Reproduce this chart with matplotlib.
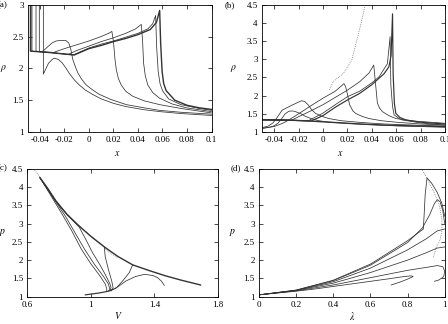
import matplotlib
matplotlib.use('Agg')
import matplotlib.pyplot as plt
from matplotlib.ticker import FuncFormatter

plt.rcParams['font.family'] = ['Liberation Serif', 'DejaVu Serif']
plt.rcParams['mathtext.fontset'] = 'stix'
plt.rcParams['font.size'] = 6.5

# ---- panel (a): rho vs x ----
a1_x = [-0.0372, -0.0372, -0.0355, -0.033, -0.030, -0.0282, -0.025, -0.022, -0.019, -0.016, -0.012,
        -0.008, -0.003, 0.003, 0.010, 0.020, 0.030, 0.045, 0.058, 0.075, 0.1]
a1_y = [3.0, 1.91, 1.98, 2.08, 2.14, 2.16, 2.14, 2.09, 2.01, 1.92, 1.82,
        1.74, 1.66, 1.59, 1.52, 1.45, 1.40, 1.35, 1.32, 1.29, 1.26]
a2_x = [-0.0405, -0.0405, -0.038, -0.0364, -0.033, -0.030, -0.0268, -0.022, -0.0187, -0.0165, -0.0148,
        -0.0132, -0.011, -0.0091, -0.006, -0.0023, 0.003, 0.0086, 0.018, 0.0305, 0.045, 0.0577, 0.075, 0.1]
a2_y = [3.0, 2.27, 2.265, 2.29, 2.35, 2.40, 2.43, 2.44, 2.435, 2.40, 2.30,
        2.14, 2.02, 1.93, 1.83, 1.74, 1.66, 1.59, 1.51, 1.43, 1.38, 1.34, 1.31, 1.28]
a3_x = [-0.0432, -0.0432, -0.038, -0.033, -0.029, -0.02, -0.01, 0.0, 0.01, 0.016, 0.0187,
        0.020, 0.0212, 0.0223, 0.024, 0.0263, 0.030, 0.0359, 0.045, 0.0577, 0.075, 0.1]
a3_y = [3.0, 2.27, 2.26, 2.255, 2.25, 2.31, 2.37, 2.43, 2.50, 2.55, 2.58,
        2.42, 2.15, 1.98, 1.84, 1.74, 1.64, 1.56, 1.49, 1.43, 1.37, 1.30]
a4_x = [-0.0465, -0.0465, -0.04, -0.03, -0.017, -0.01, 0.0, 0.01, 0.02, 0.03, 0.038, 0.0427,
        0.0437, 0.0446, 0.046, 0.048, 0.052, 0.0577, 0.068, 0.0795, 0.09, 0.1]
a4_y = [3.0, 2.27, 2.26, 2.245, 2.22, 2.28, 2.35, 2.42, 2.48, 2.55, 2.62, 2.69,
        2.45, 2.08, 1.88, 1.74, 1.62, 1.53, 1.44, 1.38, 1.35, 1.32]
a5_x = [-0.048, -0.048, -0.04, -0.03, -0.02, -0.013, 0.0, 0.01, 0.02, 0.03, 0.04, 0.048, 0.052, 0.0544,
        0.0552, 0.0565, 0.058, 0.060, 0.065, 0.075, 0.09, 0.1]
a5_y = [3.0, 2.27, 2.26, 2.245, 2.225, 2.21, 2.32, 2.38, 2.43, 2.49, 2.55, 2.62, 2.70, 2.83,
        2.35, 1.95, 1.76, 1.65, 1.52, 1.43, 1.37, 1.34]
a6_x = [-0.0475, -0.0475, -0.04, -0.03, -0.02, -0.012, 0.0, 0.01, 0.02, 0.03, 0.04, 0.05, 0.055, 0.0577,
        0.0585, 0.0597, 0.061, 0.063, 0.07, 0.08, 0.09, 0.1]
a6_y = [3.0, 2.27, 2.26, 2.245, 2.225, 2.21, 2.31, 2.36, 2.42, 2.47, 2.53, 2.61, 2.72, 2.91,
        2.40, 1.95, 1.76, 1.65, 1.50, 1.42, 1.38, 1.355]

# ---- panel (b): rho vs x ----
b0_x = [-0.05, -0.03, -0.01, 0.01, 0.03, 0.05, 0.07, 0.1]
b0_y = [1.34, 1.33, 1.30, 1.26, 1.22, 1.19, 1.17, 1.15]
b1_x = [-0.05, -0.044, -0.04, -0.037, -0.034, -0.031, -0.028, -0.025, -0.0226, -0.018, -0.0144,
        -0.009, -0.0034, 0.005, 0.0186, 0.04, 0.06, 0.08, 0.1]
b1_y = [1.10, 1.13, 1.17, 1.24, 1.36, 1.50, 1.57, 1.58, 1.56, 1.50, 1.43,
        1.36, 1.31, 1.27, 1.24, 1.20, 1.17, 1.15, 1.13]
b2_x = [-0.05, -0.045, -0.041, -0.038, -0.0335, -0.0253, -0.0176, -0.015, -0.012, -0.0095, -0.0061,
        0.0, 0.0048, 0.015, 0.032, 0.05, 0.075, 0.1]
b2_y = [1.12, 1.16, 1.25, 1.38, 1.60, 1.74, 1.86, 1.84, 1.74, 1.62, 1.51,
        1.42, 1.37, 1.31, 1.26, 1.22, 1.19, 1.16]
b3_x = [-0.05, -0.04, -0.033, -0.028, -0.02, -0.01, 0.0, 0.01, 0.0172, 0.0185, 0.0199, 0.0218,
        0.0245, 0.0268, 0.032, 0.0377, 0.048, 0.0597, 0.08, 0.1]
b3_y = [1.10, 1.15, 1.24, 1.33, 1.50, 1.72, 1.93, 2.12, 2.33, 2.25, 2.06, 1.75,
        1.58, 1.51, 1.43, 1.37, 1.31, 1.27, 1.22, 1.19]
b4_x = [-0.05, -0.035, -0.026, -0.02, -0.01, 0.0, 0.01, 0.02, 0.03, 0.0377, 0.0416, 0.0428,
        0.0446, 0.0465, 0.0487, 0.054, 0.0597, 0.075, 0.1]
b4_y = [1.33, 1.32, 1.32, 1.42, 1.58, 1.75, 1.95, 2.15, 2.38, 2.62, 2.84, 2.42,
        1.79, 1.65, 1.56, 1.45, 1.37, 1.30, 1.24]
b5_x = [-0.05, -0.03, -0.012, 0.0, 0.01, 0.02, 0.03, 0.04, 0.046, 0.0528, 0.055, 0.0556,
        0.057, 0.0583, 0.062, 0.065, 0.08, 0.1]
b5_y = [1.33, 1.32, 1.31, 1.52, 1.75, 1.97, 2.12, 2.35, 2.52, 2.88, 3.62, 2.30,
        1.70, 1.47, 1.38, 1.33, 1.25, 1.19]
b6_x = [-0.05, -0.03, -0.01, 0.0, 0.01, 0.02, 0.03, 0.04, 0.05, 0.054, 0.0558, 0.057, 0.0575,
        0.0585, 0.0597, 0.063, 0.068, 0.08, 0.1]
b6_y = [1.34, 1.33, 1.30, 1.45, 1.68, 1.88, 2.06, 2.30, 2.60, 2.79, 3.10, 4.25, 2.60,
        1.79, 1.51, 1.40, 1.33, 1.27, 1.22]
b_dot_x = [0.0051, 0.0085, 0.0126, 0.0167, 0.0236, 0.0278, 0.0319, 0.0346]
b_dot_y = [2.16, 2.39, 2.50, 2.61, 2.98, 3.53, 4.08, 4.50]

# ---- panel (c): p vs V ----
c_env_v = [0.68, 0.73, 0.78, 0.85, 0.927, 1.0, 1.085, 1.17, 1.263, 1.37, 1.47, 1.57, 1.672, 1.69]
c_env_p = [4.25, 3.95, 3.62, 3.25, 2.93, 2.65, 2.36, 2.10, 1.87, 1.71, 1.57, 1.45, 1.34, 1.32]
c_low_v = [0.965, 1.0, 1.05, 1.1, 1.13]
c_low_p = [1.05, 1.07, 1.10, 1.14, 1.18]
c1_v = [0.68, 0.75, 0.82, 0.88, 0.94, 1.0, 1.06, 1.09, 1.1, 1.1]
c1_p = [4.25, 3.75, 3.25, 2.80, 2.30, 1.90, 1.55, 1.35, 1.22, 1.15]
c2_v = [0.68, 0.76, 0.84, 0.90, 0.96, 1.02, 1.08, 1.11, 1.12, 1.11]
c2_p = [4.25, 3.72, 3.20, 2.75, 2.30, 1.90, 1.55, 1.35, 1.20, 1.15]
c3_v = [0.68, 0.78, 0.85, 0.927, 0.97, 1.011, 1.06, 1.095, 1.12, 1.127, 1.12]
c3_p = [4.25, 3.60, 3.24, 2.90, 2.55, 2.20, 1.85, 1.57, 1.35, 1.25, 1.16]
c4_v = [1.085, 1.09, 1.11, 1.13, 1.14, 1.13]
c4_p = [2.36, 2.10, 1.75, 1.45, 1.25, 1.16]
c5_v = [1.263, 1.242, 1.20, 1.158, 1.13]
c5_p = [1.87, 1.66, 1.43, 1.23, 1.18]
c6_v = [1.12, 1.17, 1.221, 1.28, 1.336, 1.39, 1.42, 1.445, 1.462]
c6_p = [1.16, 1.27, 1.43, 1.55, 1.61, 1.58, 1.52, 1.42, 1.31]
c_dot_v = [1.165, 1.13, 1.10, 1.08, 1.0, 0.9, 0.8, 0.72, 0.68, 0.64]
c_dot_p = [2.08, 2.17, 2.26, 2.38, 2.66, 3.03, 3.50, 4.02, 4.27, 4.50]

# ---- panel (d): p vs lambda ----
d1_l = [0.0, 0.1, 0.2, 0.3, 0.4, 0.5, 0.6, 0.7, 0.78, 0.82, 0.83, 0.80, 0.76, 0.712]
d1_p = [1.05, 1.10, 1.15, 1.21, 1.28, 1.35, 1.42, 1.49, 1.55, 1.57, 1.55, 1.48, 1.40, 1.32]
d2_l = [0.0, 0.2, 0.4, 0.6, 0.8, 0.9, 0.96, 0.99, 1.0, 0.995, 0.97, 0.945]
d2_p = [1.05, 1.16, 1.32, 1.52, 1.72, 1.80, 1.85, 1.82, 1.70, 1.55, 1.46, 1.42]
d3_l = [0.0, 0.2, 0.4, 0.6, 0.8, 0.9, 0.96, 1.0]
d3_p = [1.05, 1.17, 1.37, 1.66, 2.00, 2.20, 2.33, 2.36]
d4_l = [0.0, 0.2, 0.4, 0.6, 0.8, 0.9, 0.96, 1.0]
d4_p = [1.05, 1.17, 1.41, 1.78, 2.28, 2.58, 2.80, 2.85]
d5_l = [0.0, 0.2, 0.4, 0.6, 0.8, 0.88, 0.92, 0.945, 0.96, 0.975, 0.99, 1.0]
d5_p = [1.05, 1.18, 1.44, 1.86, 2.48, 2.88, 3.25, 3.55, 3.65, 3.60, 3.35, 3.00]
d6_l = [0.0, 0.2, 0.4, 0.6, 0.8, 0.885, 0.89, 0.895, 0.905, 0.93, 0.96, 0.985, 1.0]
d6_p = [1.05, 1.18, 1.45, 1.89, 2.53, 2.85, 3.30, 3.80, 4.25, 4.10, 3.85, 3.55, 3.20]
d_dot_l = [0.875, 0.90, 0.928, 0.955, 0.973, 0.985, 0.985, 0.975, 0.955, 0.94]
d_dot_p = [4.50, 4.28, 4.00, 3.72, 3.46, 3.10, 2.80, 2.55, 2.35, 2.08]

ink = '#333333'
thin = 0.55
thick = 1.0

fig = plt.figure(figsize=(4.48, 3.24), dpi=100)
ax_a = fig.add_axes([0.0618, 0.5926, 0.4103, 0.3929])
ax_b = fig.add_axes([0.5848, 0.5926, 0.4085, 0.3929])
ax_c = fig.add_axes([0.0609, 0.0843, 0.4257, 0.3951])
ax_d = fig.add_axes([0.5781, 0.0843, 0.4145, 0.3951])

fmt = FuncFormatter(lambda v, pos: '%g' % round(v, 6))


def style(ax, xlim, ylim, xticks, yticks):
    ax.set_xlim(xlim)
    ax.set_ylim(ylim)
    ax.set_xticks(xticks)
    ax.set_yticks(yticks)
    ax.xaxis.set_major_formatter(fmt)
    ax.yaxis.set_major_formatter(fmt)
    ax.tick_params(direction='in', length=3, width=0.5, top=True, right=True,
                   pad=3, labelsize=6.5)
    for s in ax.spines.values():
        s.set_linewidth(0.6)


# (a)
for xs, ys in [(a1_x, a1_y), (a2_x, a2_y), (a3_x, a3_y), (a4_x, a4_y), (a5_x, a5_y)]:
    ax_a.plot(xs, ys, color=ink, lw=thin)
ax_a.plot(a6_x, a6_y, color=ink, lw=thick)
style(ax_a, (-0.05, 0.1), (1, 3), [-0.04, -0.02, 0, 0.02, 0.04, 0.06, 0.08, 0.1], [1, 1.5, 2, 2.5, 3])

# (b)
ax_b.plot(b0_x, b0_y, color=ink, lw=thick)
for xs, ys in [(b1_x, b1_y), (b2_x, b2_y), (b3_x, b3_y), (b4_x, b4_y), (b5_x, b5_y)]:
    ax_b.plot(xs, ys, color=ink, lw=thin)
ax_b.plot(b6_x, b6_y, color=ink, lw=0.85)
ax_b.plot(b_dot_x, b_dot_y, color='#666666', lw=thin, ls=(0, (1, 1.5)))
style(ax_b, (-0.05, 0.1), (1, 4.5), [-0.04, -0.02, 0, 0.02, 0.04, 0.06, 0.08, 0.1],
      [1, 1.5, 2, 2.5, 3, 3.5, 4, 4.5])

# (c)
ax_c.plot(c_dot_v, c_dot_p, color='#666666', lw=thin, ls=(0, (1, 1.5)))
ax_c.plot(c_env_v, c_env_p, color=ink, lw=thick)
ax_c.plot(c_low_v, c_low_p, color=ink, lw=0.85)
for vs, ps in [(c1_v, c1_p), (c2_v, c2_p), (c3_v, c3_p), (c4_v, c4_p), (c5_v, c5_p), (c6_v, c6_p)]:
    ax_c.plot(vs, ps, color=ink, lw=thin)
style(ax_c, (0.6, 1.8), (1, 4.5), [0.6, 1, 1.4, 1.8], [1, 1.5, 2, 2.5, 3, 3.5, 4, 4.5])

# (d)
for ls_, ps in [(d1_l, d1_p), (d2_l, d2_p), (d3_l, d3_p), (d4_l, d4_p), (d5_l, d5_p), (d6_l, d6_p)]:
    ax_d.plot(ls_, ps, color=ink, lw=thin)
ax_d.plot(d_dot_l, d_dot_p, color='#666666', lw=thin, ls=(0, (1, 1.5)))
style(ax_d, (0, 1), (1, 4.5), [0, 0.2, 0.4, 0.6, 0.8, 1], [1, 1.5, 2, 2.5, 3, 3.5, 4, 4.5])

# axis labels
ax_a.text(-0.134, 0.5, r'$\rho$', transform=ax_a.transAxes, ha='center', va='center', fontsize=7)
ax_b.text(-0.153, 0.5, r'$\rho$', transform=ax_b.transAxes, ha='center', va='center', fontsize=7)
ax_c.text(-0.127, 0.5, r'$p$', transform=ax_c.transAxes, ha='center', va='center', fontsize=7)
ax_d.text(-0.14, 0.5, r'$p$', transform=ax_d.transAxes, ha='center', va='center', fontsize=7)
ax_a.text(0.49, -0.165, r'$x$', transform=ax_a.transAxes, ha='center', va='center', fontsize=7)
ax_b.text(0.43, -0.165, r'$x$', transform=ax_b.transAxes, ha='center', va='center', fontsize=7)
ax_c.text(0.48, -0.15, r'$V$', transform=ax_c.transAxes, ha='center', va='center', fontsize=7)
ax_d.text(0.5, -0.15, r'$\lambda$', transform=ax_d.transAxes, ha='center', va='center', fontsize=7)

# panel letters
fig.text(0.0167, 0.985, '(a)', ha='right', va='center', fontsize=6.5)
fig.text(0.502, 0.985, '(b)', ha='left', va='center', fontsize=6.5)
fig.text(0.0167, 0.4815, '(c)', ha='right', va='center', fontsize=6.5)
fig.text(0.515, 0.4815, '(d)', ha='left', va='center', fontsize=6.5)

fig.savefig('out.png', dpi=100)
